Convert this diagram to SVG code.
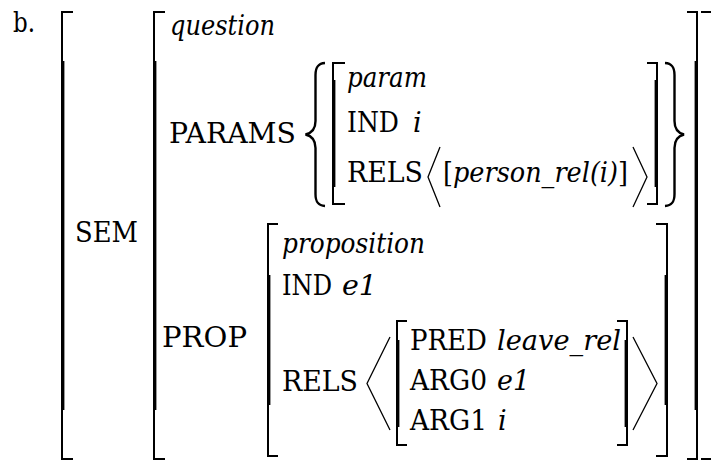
<svg xmlns="http://www.w3.org/2000/svg" width="711" height="462" viewBox="0 0 711 462">
<defs>
<style>
.thin{fill:none;stroke:#000;stroke-width:2}
.thick{fill:none;stroke:#000;stroke-width:3.4}
.brace{fill:none;stroke:#000;stroke-width:2.4}
.ang{fill:none;stroke:#000;stroke-width:1.3}
</style>
</defs>
<rect width="711" height="462" fill="#fff"/>
<g id="label"><text font-family="DejaVu Serif, Liberation Serif, serif" font-size="27" x="13" y="32" textLength="22" lengthAdjust="spacingAndGlyphs">b.</text></g>
<g id="outer">
<path class="thin" d="M73,12 H62 V459 H73"/><path class="thick" d="M62.7,61 V410"/>
<path class="thin" d="M701,12 H712"/><path class="thin" d="M701,459 H712"/>
<text font-family="DejaVu Serif, Liberation Serif, serif" font-size="27" x="75" y="242" textLength="63" lengthAdjust="spacingAndGlyphs">SEM</text>
</g>
<g id="sem">
<path class="thin" d="M165,12 H154 V459 H165"/><path class="thick" d="M154.7,61 V410"/>
<path class="thin" d="M687,12 H697 V459 H687"/><path class="thick" d="M696.3,61 V410"/>
<text font-family="DejaVu Serif, Liberation Serif, serif" font-size="27" font-style="italic" x="170" y="35" textLength="105" lengthAdjust="spacingAndGlyphs">question</text>
<text font-family="DejaVu Serif, Liberation Serif, serif" font-size="27" x="169" y="143" textLength="127" lengthAdjust="spacingAndGlyphs">PARAMS</text>
<text font-family="DejaVu Serif, Liberation Serif, serif" font-size="27" x="162" y="347" textLength="85" lengthAdjust="spacingAndGlyphs">PROP</text>
</g>
<g id="params">
<path class="brace" d="M325,63 C318,63.5 315.5,67 315.5,75 V121 C315.5,128 312,133 305.5,134.5 C312,136 315.5,141 315.5,148 V194 C315.5,202 318,205.5 325,206"/>
<path class="brace" d="M665,63 C672,63.5 674.5,67 674.5,75 V121 C674.5,128 678,133 684,134.5 C678,136 674.5,141 674.5,148 V194 C674.5,202 672,205.5 665,206"/>
<path class="thin" d="M345,63 H333 V204 H345"/><path class="thick" d="M333.7,80 V187"/>
<path class="thin" d="M647,63 H657 V204 H647"/><path class="thick" d="M656.3,80 V187"/>
<text font-family="DejaVu Serif, Liberation Serif, serif" font-size="27" font-style="italic" x="347" y="87" textLength="80" lengthAdjust="spacingAndGlyphs">param</text>
<text font-family="DejaVu Serif, Liberation Serif, serif" font-size="27" x="347" y="132" textLength="52" lengthAdjust="spacingAndGlyphs">IND</text>
<text font-family="DejaVu Serif, Liberation Serif, serif" font-size="27" font-style="italic" x="413" y="132">i</text>
<text font-family="DejaVu Serif, Liberation Serif, serif" font-size="27" x="347" y="182" textLength="76" lengthAdjust="spacingAndGlyphs">RELS</text>
<path class="ang" d="M440,147 L428,177 L440,207"/>
<text font-family="DejaVu Serif, Liberation Serif, serif" font-size="27" x="443" y="182" textLength="185" lengthAdjust="spacingAndGlyphs">[<tspan font-style="italic">person_rel(i)</tspan>]</text>
<path class="ang" d="M633,147 L647,177 L633,207"/>
</g>
<g id="prop">
<path class="thin" d="M278,224 H268 V456 H278"/><path class="thick" d="M268.7,275 V405"/>
<path class="thin" d="M656,224 H667 V456 H656"/><path class="thick" d="M666.3,275 V405"/>
<text font-family="DejaVu Serif, Liberation Serif, serif" font-size="27" font-style="italic" x="282" y="253" textLength="143" lengthAdjust="spacingAndGlyphs">proposition</text>
<text font-family="DejaVu Serif, Liberation Serif, serif" font-size="27" x="282" y="295" textLength="50" lengthAdjust="spacingAndGlyphs">IND</text>
<text font-family="DejaVu Serif, Liberation Serif, serif" font-size="27" font-style="italic" x="342" y="295" textLength="35" lengthAdjust="spacingAndGlyphs">e1</text>
<text font-family="DejaVu Serif, Liberation Serif, serif" font-size="27" x="282" y="391" textLength="76" lengthAdjust="spacingAndGlyphs">RELS</text>
<path class="ang" d="M390,337 L367,383.5 L390,430"/>
<path class="ang" d="M633,337 L657,383.5 L633,430"/>
</g>
<g id="pred">
<path class="thin" d="M407,321 H397 V445 H407"/><path class="thick" d="M397.7,340 V427"/>
<path class="thin" d="M617,321 H627 V445 H617"/><path class="thick" d="M626.3,340 V427"/>
<text font-family="DejaVu Serif, Liberation Serif, serif" font-size="27" x="410" y="350" textLength="77" lengthAdjust="spacingAndGlyphs">PRED</text>
<text font-family="DejaVu Serif, Liberation Serif, serif" font-size="27" font-style="italic" x="497" y="350" textLength="124" lengthAdjust="spacingAndGlyphs">leave_rel</text>
<text font-family="DejaVu Serif, Liberation Serif, serif" font-size="27" x="410" y="390" textLength="77" lengthAdjust="spacingAndGlyphs">ARG0</text>
<text font-family="DejaVu Serif, Liberation Serif, serif" font-size="27" font-style="italic" x="497" y="390" textLength="33" lengthAdjust="spacingAndGlyphs">e1</text>
<text font-family="DejaVu Serif, Liberation Serif, serif" font-size="27" x="410" y="430" textLength="77" lengthAdjust="spacingAndGlyphs">ARG1</text>
<text font-family="DejaVu Serif, Liberation Serif, serif" font-size="27" font-style="italic" x="498" y="430">i</text>
</g>
</svg>
